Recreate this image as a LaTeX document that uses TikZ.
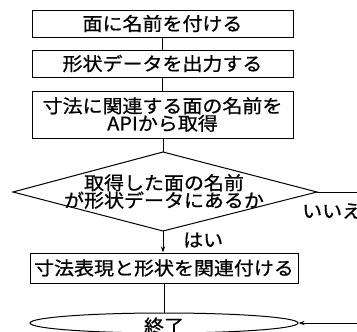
\documentclass[tikz,border=0pt]{standalone}
\usepackage{fontspec}
\newfontfamily\jp{Noto Sans CJK JP}[FakeStretch=1.08,FakeBold=0.8]
\usetikzlibrary{shapes.geometric,arrows.meta}
\begin{document}
\begin{tikzpicture}[x=1pt,y=-1pt,
  every node/.style={font=\jp\fontsize{18.5}{17.5}\selectfont, inner sep=0pt},
  box/.style={draw, line width=1pt, minimum width=261pt, align=center},
  conn/.style={line width=1pt},
  arr/.style={line width=1pt, -{Stealth[length=6pt,width=4pt]}}]
\useasboundingbox (0,0) rectangle (357,332);
\node[box, minimum height=27pt] (b1) at (162.5,23.5) {面に名前を付ける};
\node[box, minimum height=27pt] (b2) at (162.5,63.5) {形状データを出力する};
\node[box, minimum height=47pt] (b3) at (162.5,114.5) {寸法に関連する面の名前を\\APIから取得};
\coordinate (dt) at (163,152);
\coordinate (dl) at (13,192);
\coordinate (dr) at (317,192);
\coordinate (db) at (163,231);
\draw[conn] (dt) -- (dr) -- (db) -- (dl) -- cycle;
\node[align=center] (dtext) at (164,191.5) {取得した面の名前\\が形状データにあるか};
\node[box, minimum width=268pt, minimum height=30pt] (b4) at (164,268) {寸法表現と形状を関連付ける};
\node[draw, ellipse, line width=1pt, minimum width=268pt, minimum height=20pt] (end) at (164,323) {};
\node (endt) at (164,326) {終了};
\node[anchor=west] (yes) at (183,240) {はい};
\node[anchor=west] (no) at (302,211) {いいえ};
\coordinate (r1) at (357,192);
\coordinate (r2) at (357,323);
\draw[conn] (b1) -- (b2);
\draw[conn] (b2) -- (b3);
\draw[conn] (b3.south -| dt) -- (dt);
\draw[arr] (db) -- (b4.north -| db);
\draw[conn] (b4.south -| end) -- (end.north);
\draw[conn] (dr) -- (r1);
\draw[arr] (r2) -- (end.east);
\end{tikzpicture}
\end{document}
